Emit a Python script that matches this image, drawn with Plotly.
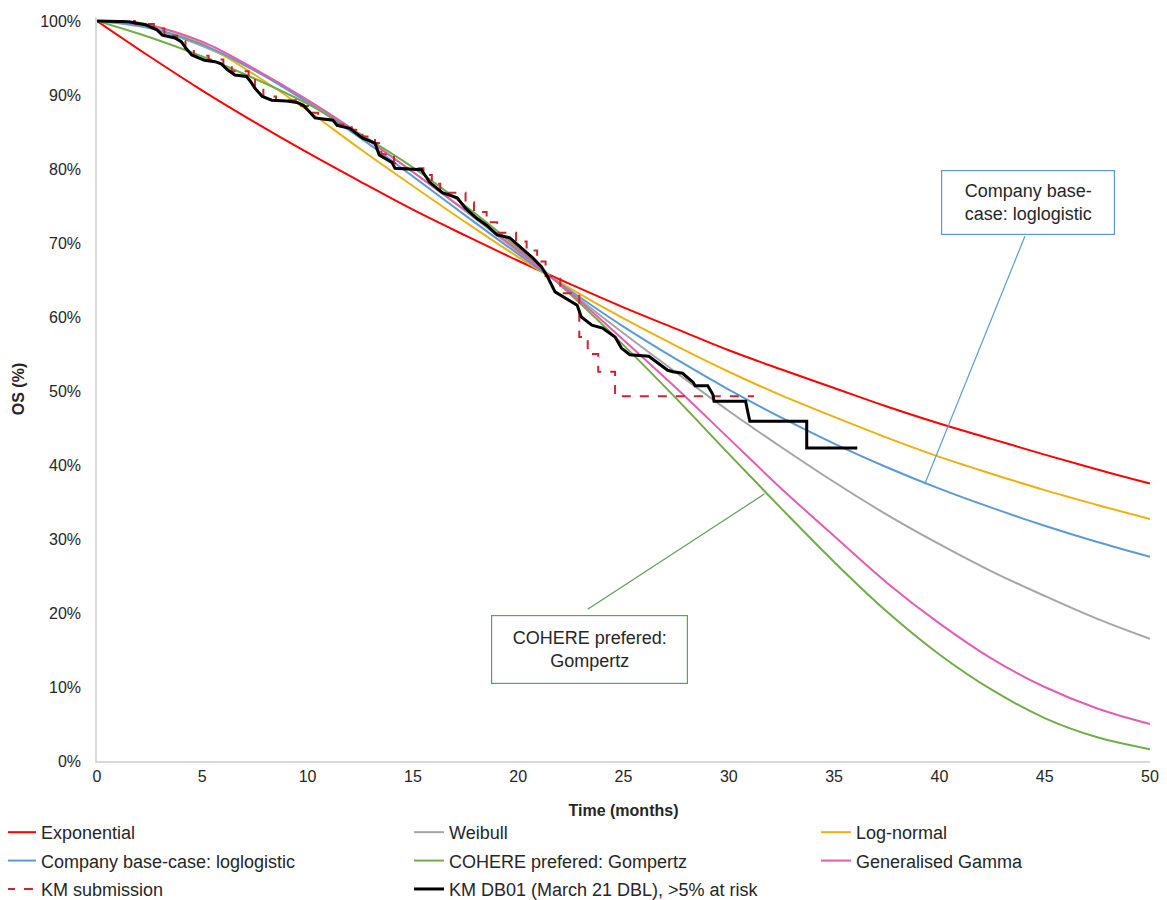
import plotly.graph_objects as go

# ---- data ----
months = [0, 2.5, 5, 7.5, 10, 12.5, 15, 17.5, 20, 22.5, 25, 27.5, 30, 32.5, 35, 37.5, 40, 42.5, 45, 47.5, 50]

exponential = [100, 95.2, 90.6, 86.3, 82.2, 78.3, 74.5, 71.0, 67.6, 64.4, 61.3, 58.4, 55.5, 52.9, 50.4, 47.9, 45.6, 43.5, 41.4, 39.4, 37.5]
weibull = [100, 99.0, 96.6, 93.3, 89.3, 84.7, 79.6, 74.3, 68.8, 63.3, 57.8, 52.5, 47.3, 42.4, 37.7, 33.3, 29.3, 25.6, 22.3, 19.2, 16.5]
lognormal = [100, 99.5, 96.9, 92.7, 87.9, 82.7, 77.7, 72.8, 68.1, 63.8, 59.8, 56.1, 52.6, 49.4, 46.5, 43.7, 41.1, 38.8, 36.6, 34.6, 32.7]
loglogistic = [100, 99.1, 96.8, 93.3, 89.0, 84.2, 79.0, 73.7, 68.5, 63.5, 58.7, 54.3, 50.2, 46.4, 42.9, 39.7, 36.8, 34.2, 31.8, 29.6, 27.6]
gompertz = [100, 97.8, 95.2, 92.2, 88.8, 84.7, 80.2, 75.0, 69.3, 63.0, 56.2, 49.0, 41.5, 34.1, 26.9, 20.2, 14.4, 9.6, 5.8, 3.2, 1.6]
gen_gamma = [100, 99.4, 97.2, 93.5, 89.3, 84.6, 79.6, 74.4, 69.0, 63.2, 56.9, 50.4, 43.6, 36.8, 30.4, 24.1, 18.6, 13.8, 10.0, 7.1, 5.0]

km_sub_t = [0, 1.8, 2.7, 3.2, 3.8, 4.2, 4.6, 5.3, 6.0, 6.4, 7.2, 7.5, 7.9, 8.5, 9.7, 10.1, 10.5, 11.4, 12.1, 12.6,
            13.2, 13.5, 14.1, 14.4, 15.5, 15.9, 16.3, 17.5, 17.9, 18.5, 19.0, 19.9, 20.4, 20.9, 21.3, 22.0, 22.9,
            23.3, 23.8, 24.6, 31.2]
km_sub_s = [100, 99.6, 99.0, 98.0, 97.3, 96.2, 95.3, 94.8, 94.0, 93.2, 92.3, 91.0, 89.8, 89.3, 88.5, 87.6, 86.7, 86.0,
            85.3, 84.4, 83.5, 82.0, 80.8, 80.1, 79.2, 78.0, 76.8, 75.5, 74.2, 72.8, 71.4, 70.2, 69.0, 67.5, 65.5, 63.2,
            57.3, 55.0, 52.6, 49.3, 49.3]

km_db01_t = [0, 1.5, 2.3, 2.85, 3.1, 3.7, 4.0, 4.2, 4.5, 5.1, 5.6, 5.9, 6.2, 6.55, 7.1, 7.3, 7.5, 7.85, 8.3, 9.0,
             9.5, 9.8, 10.0, 10.35, 11.2, 11.4, 12.0, 12.6, 13.2, 13.4, 14.0, 14.15, 15.4, 15.8, 16.4, 17.1, 17.5,
             18.0, 18.5, 19.0, 19.6, 20.0, 20.65, 21.1, 21.4, 21.75, 22.2, 22.8, 23.0, 23.5, 24.0, 24.6, 24.9, 25.3,
             26.2, 26.6, 27.1, 27.35, 27.8, 28.3, 28.4, 29.0, 29.25, 29.3, 30.8, 30.9, 31.0, 33.7, 33.7, 36.1]
km_db01_s = [100, 99.9, 99.5, 98.8, 98.1, 97.7, 97.2, 96.4, 95.4, 94.7, 94.5, 94.2, 93.4, 92.7, 92.5, 91.8, 90.9,
             89.8, 89.3, 89.2, 89.0, 88.6, 88.0, 86.9, 86.6, 85.9, 85.5, 84.2, 83.5, 81.9, 80.9, 80.1, 79.9, 78.2,
             76.8, 76.1, 74.7, 73.4, 72.4, 71.1, 70.7, 69.7, 68.1, 66.8, 65.4, 63.4, 62.6, 61.6, 60.0, 58.9, 58.5,
             57.3, 55.8, 54.9, 54.7, 53.9, 52.8, 52.6, 52.4, 51.2, 50.7, 50.7, 49.5, 48.6, 48.6, 47.2, 45.9, 45.9,
             42.3, 42.3]

y_ticks = [0, 10, 20, 30, 40, 50, 60, 70, 80, 90, 100]
x_ticks = [0, 5, 10, 15, 20, 25, 30, 35, 40, 45, 50]

FONT = "Arial, Liberation Sans, sans-serif"
TXT = "#262626"

fig = go.Figure()

def model(name, y, color, leg):
    fig.add_trace(go.Scatter(x=months, y=y, name=name, mode="lines", line=dict(color=color, width=2, shape="spline"),
                             legend=leg, legendgroup=name))

model("Exponential", exponential, "#FF0000", "legend")
model("Weibull", weibull, "#A5A5A5", "legend2")
model("Log-normal", lognormal, "#EDB110", "legend3")
model("Company base-case: loglogistic", loglogistic, "#5B9BD5", "legend")
model("COHERE prefered: Gompertz", gompertz, "#70AD47", "legend2")
model("Generalised Gamma", gen_gamma, "#E45DB0", "legend3")

fig.add_trace(go.Scatter(x=km_sub_t, y=km_sub_s, name="KM submission", mode="lines",
                         line=dict(color="#C8282D", width=2, dash="dash", shape="hv"),
                         legend="legend", legendgroup="KM submission"))
fig.add_trace(go.Scatter(x=km_db01_t, y=km_db01_s, name="KM DB01 (March 21 DBL), >5% at risk", mode="lines",
                         line=dict(color="#000000", width=3),
                         legend="legend2", legendgroup="KM DB01"))

# annotation boxes with leader lines
fig.add_shape(type="line", x0=44.06, y0=70.9, x1=39.3, y1=37.4, line=dict(color="#5B9BD5", width=1.2))
fig.add_shape(type="line", x0=23.3, y0=20.5, x1=31.7, y1=36.1, line=dict(color="#5E9E5E", width=1.2))
fig.add_annotation(x=44.2, y=75.5, xref="x", yref="y", text="Company base-<br>case: loglogistic", showarrow=False,
                   font=dict(family=FONT, size=18, color=TXT), bgcolor="white", bordercolor="#5B9BD5",
                   borderwidth=1.2, borderpad=0, width=172, height=63, align="center")
fig.add_annotation(x=23.4, y=15.1, xref="x", yref="y", text="COHERE prefered:<br>Gompertz", showarrow=False,
                   font=dict(family=FONT, size=18, color=TXT), bgcolor="white", bordercolor="#5E9E5E",
                   borderwidth=1.2, borderpad=0, width=195, height=67, align="center")

leg_common = dict(orientation="v", xanchor="left", yanchor="top", y=-0.0712, font=dict(family=FONT, size=18, color=TXT),
                  bgcolor="rgba(0,0,0,0)", traceorder="grouped", tracegroupgap=2)
# page body adds an 8px offset, so the figure is 8px smaller and margins shifted accordingly
fig.update_layout(
    width=1159, height=892,
    margin=dict(l=89, r=17, t=9, b=139, autoexpand=False),
    paper_bgcolor="white", plot_bgcolor="white",
    font=dict(family=FONT, size=16, color=TXT),
    showlegend=True,
    legend=dict(x=-0.0912, **leg_common),
    legend2=dict(x=0.2963, **leg_common),
    legend3=dict(x=0.6828, **leg_common),
    xaxis=dict(range=[0, 50], tickvals=x_ticks, ticktext=[str(v) for v in x_ticks], showgrid=False, zeroline=False,
               showline=True, linecolor="#D9D9D9", linewidth=1.5, ticks="", tickfont=dict(size=16, color=TXT),
               automargin=False,
               title=dict(text="<b>Time (months)</b>", font=dict(size=16, color=TXT), standoff=21)),
    yaxis=dict(range=[0, 100.54], tickvals=y_ticks, ticktext=[f"{v}%" for v in y_ticks], showgrid=False,
               zeroline=False, showline=True, linecolor="#D9D9D9", linewidth=1.5, ticks="",
               tickfont=dict(size=16, color=TXT), ticklabelstandoff=11, automargin=False,
               title=dict(text="<b>OS (%)</b>", font=dict(size=16, color=TXT), standoff=12)),
)

fig.write_html("out.html")
